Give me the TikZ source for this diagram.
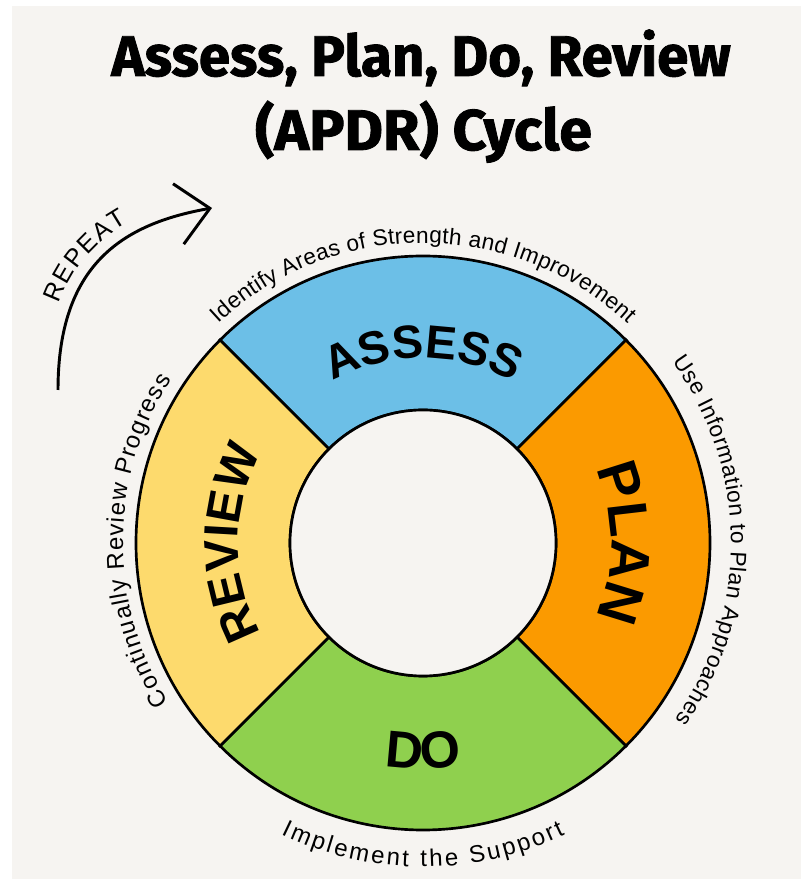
\documentclass[tikz,border=0pt]{standalone}
\usepackage{fontspec}
\setmainfont{Liberation Sans}
\newfontfamily\titlefont{Fira Sans}[BoldFeatures={FakeBold=1.5}]
\usepackage{tikz}
\usetikzlibrary{arrows.meta,decorations.text,positioning}

\definecolor{bgcream}{HTML}{F6F4F1}
\definecolor{apblue}{HTML}{6CBFE7}
\definecolor{aporange}{HTML}{FB9A00}
\definecolor{apgreen}{HTML}{8FD04E}
\definecolor{apyellow}{HTML}{FDDA6D}

\tikzset{
    ring/.style={draw=black, line width=2pt},
    sectortext/.style 2 args={decorate, decoration={text along path, text align=center,
        text={|\fontsize{#1}{#1}\selectfont\bfseries|#2}}},
    outertext/.style 2 args={decorate, decoration={text along path, text align=fit to path,
        text={|\fontsize{#1}{#1}\selectfont|#2}}},
    titletext/.style={anchor=base, font=\titlefont\bfseries\fontsize{43pt}{43pt}\selectfont},
    repeatarrow/.style={line width=2.2pt, -{Straight Barb[length=24pt, width=46pt]}}
}

\begin{document}
\begin{tikzpicture}[x=0.75pt, y=0.75pt]
    \useasboundingbox (0,0) rectangle (801,879);
    % Background
    \fill[white] (0,0) rectangle (801,879);
    \fill[bgcream] (12,0) rectangle (801,873);

    % Title
    \node[titletext, xscale=0.985] (titleA) at (421,803) {Assess, Plan, Do, Review};
    \node[titletext, xscale=1.03] (titleB) at (423.5,729) {(APDR) Cycle};

    % Repeat arrow
    \coordinate (rpstart) at (58,489);
    \coordinate (rpend) at (212,671);
    \draw[repeatarrow] (rpstart) .. controls (58,614) and (122,655) .. (rpend);
    \path[decorate, decoration={text along path, raise=9pt, text align={left, left indent=62pt},
        text={|\fontsize{19pt}{19pt}\selectfont|REPEAT}}]
        (rpstart) .. controls (58,614) and (122,655) .. (rpend);

    \begin{scope}[shift={(423,336)}]
        % Ring sectors
        \foreach \s/\col in {45/apblue, -45/aporange, 225/apgreen, 135/apyellow} {
            \filldraw[ring, fill=\col] (\s:133) arc[start angle=\s, end angle=\s+90, radius=133]
                -- (\s+90:287) arc[start angle=\s+90, end angle=\s, radius=287] -- cycle;
        }
        \filldraw[ring, fill=bgcream] (0,0) circle[radius=133];

        % Sector labels
        \path[sectortext={35pt}{ASSESS}] (150:185) arc[start angle=150, end angle=30, radius=185];
        \path[sectortext={42pt}{PLAN}] (60:188) arc[start angle=60, end angle=-60, radius=188];
        \path[sectortext={39pt}{DO}] (240:226) arc[start angle=240, end angle=300, radius=226];
        \path[sectortext={36pt}{REVIEW}] (240:185) arc[start angle=240, end angle=120, radius=185];

        % Outer labels
        \path[outertext={17pt}{Identify Areas of Strength and Improvement}] (133:300) arc[start angle=133, end angle=47, radius=300];
        \path[outertext={17pt}{Use Information to Plan Approaches}] (36:308) arc[start angle=36, end angle=-35, radius=308];
        \path[outertext={18pt}{Implement the Support}] (244:324) arc[start angle=244, end angle=296, radius=324];
        \path[outertext={18pt}{Continually Review Progress}] (212:300) arc[start angle=212, end angle=147, radius=300];
    \end{scope}
\end{tikzpicture}
\end{document}
